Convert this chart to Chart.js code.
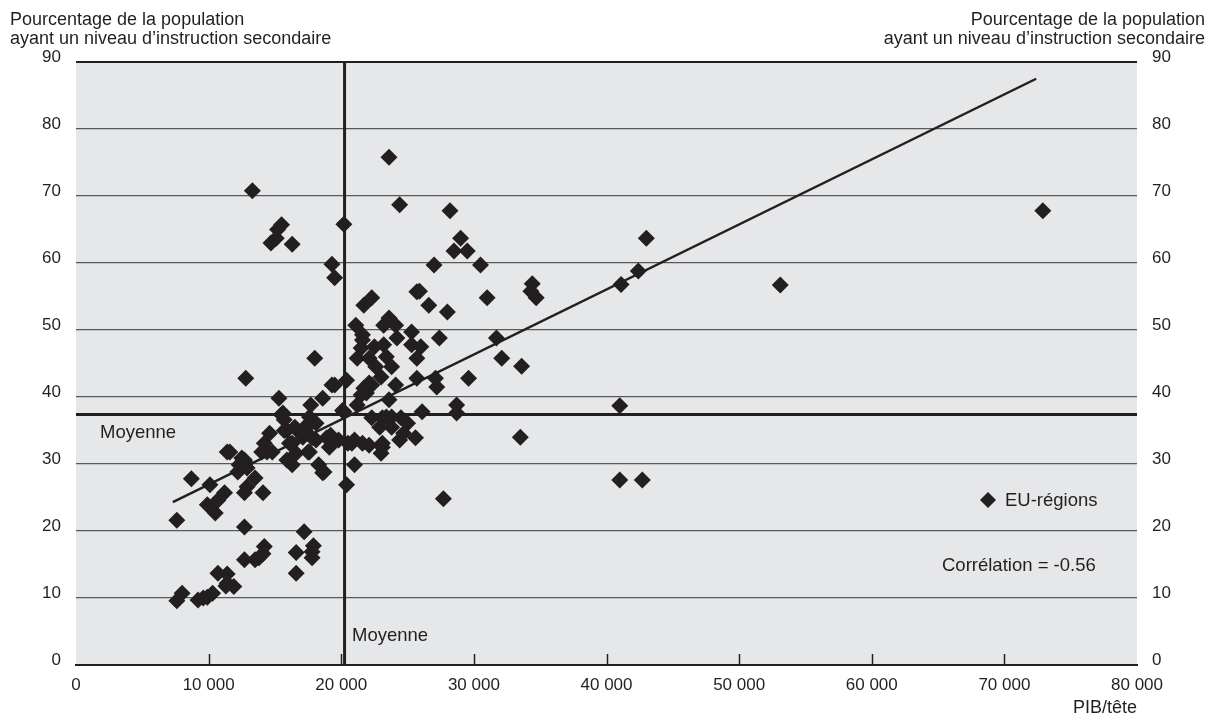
<!DOCTYPE html>
<html>
<head>
<meta charset="utf-8">
<script src="https://cdn.jsdelivr.net/npm/chart.js@4"></script>
<style>
  body { margin: 0; background: #fff; }
  #wrap { width: 1213px; height: 718px; }
</style>
</head>
<body>
<div id="wrap"><canvas id="chart" width="1213" height="718"></canvas></div>
<script>
// PIB/tête (x) et % niveau secondaire (y)
const gdp = [
  7600, 8000, 9200, 9600, 9900, 10300, 10700, 11400, 11300, 11900, 12700, 13500, 13800, 14100, 14200,
  16600, 16600, 17200, 17800, 17800, 17900, 11400,
  7600, 8700, 10100, 9900, 10500, 11200, 10700, 12700, 14100, 13500, 12500, 12200, 12800, 12700, 12800,
  18000, 11400, 14600, 14200, 14400, 15500, 15300, 15700, 15900, 16300, 16300, 16700, 17100, 17500, 17700,
  17600, 17400, 18100, 18300, 18600, 18600, 18900, 19200, 19500, 19800, 20400, 20100, 20500, 21000, 20400,
  21000, 21600, 21900, 22100, 23100, 23000, 23600, 23400, 15600, 18100, 17400, 16500, 15700, 17800, 19100,
  16100, 14000, 14800, 15900, 16600, 17600, 18700, 12700, 12300, 12900, 11600, 12900, 20200, 19300, 20800,
  13300, 15500, 15200, 14700, 15100, 16300, 19300, 19500, 20200,
  23600, 24400, 28200, 29000, 28500, 29500, 30500, 27000, 25700, 25900, 26600, 28000, 31000, 34400, 34700,
  34300, 21700, 22300, 21100, 23600, 23200, 24100, 25300, 27400, 31700, 21600, 24200, 21600, 21500, 22500,
  23200, 25300, 26000, 21200, 22100, 23400, 25700, 22600, 23800, 32100, 33600, 29600, 24100, 25700, 27100,
  27200, 21700, 22300, 21500, 21200, 26100, 28700, 28700, 22300, 23100, 23800, 24500, 25000, 22900, 23800,
  24700, 25600, 24400, 22100, 23100, 23000, 27700, 33500,
  41100, 42400, 43000, 41000, 41000, 42700, 53100, 72900
];
const edu = [
  9.6, 10.7, 9.7, 10.0, 10.1, 10.7, 13.7, 13.6, 11.8, 11.7, 15.7, 15.7, 16.0, 16.6, 17.7,
  13.7, 16.8, 19.9, 16.0, 16.9, 17.8, 12.2,
  21.6, 27.8, 26.9, 23.9, 22.7, 25.7, 24.6, 25.7, 25.7, 27.9, 30.9, 28.8, 30.1, 20.6, 42.8,
  45.8, 31.8, 34.6, 33.1, 31.8, 37.3, 39.8, 36.6, 35.0, 29.9, 33.1, 35.0, 34.0, 31.8, 38.8,
  37.0, 35.5, 33.6, 29.9, 28.7, 39.8, 33.9, 34.3, 41.8, 33.6, 42.5, 38.0, 33.1, 29.9, 26.9,
  33.6, 33.1, 40.6, 42.1, 32.5, 43.0, 39.6, 37.0, 37.6, 36.1, 35.8, 35.5, 35.0, 33.9, 32.5,
  33.1, 31.8, 31.8, 30.6, 31.6, 31.8, 28.8, 30.6, 29.9, 29.4, 31.8, 26.6, 37.8, 41.8, 33.1,
  70.8, 65.7, 65.0, 63.0, 63.7, 62.8, 59.8, 57.8, 65.8,
  75.8, 68.7, 67.8, 63.7, 61.8, 61.8, 59.7, 59.7, 55.7, 55.8, 53.7, 52.7, 54.8, 56.9, 54.8,
  55.8, 53.7, 54.8, 50.7, 51.8, 50.7, 50.7, 49.7, 48.8, 48.8, 49.3, 48.8, 48.5, 47.3, 47.5,
  47.8, 47.8, 47.5, 45.8, 45.8, 46.0, 45.8, 44.5, 44.5, 45.8, 44.6, 42.8, 41.8, 42.8, 42.8,
  41.5, 41.3, 41.8, 40.3, 38.8, 37.8, 38.8, 37.6, 36.9, 36.9, 37.0, 36.9, 36.1, 35.5, 35.5,
  34.6, 33.9, 33.6, 32.8, 33.1, 31.6, 24.8, 34.0,
  56.8, 58.8, 63.7, 38.7, 27.6, 27.6, 56.7, 67.8
];

// droite de tendance et moyennes
const trendX = [7300, 72400];
const trendY = [24.3, 87.5];
const meanGdp = 20250;
const meanEdu = 37.4;

const xTicks = [0, 10000, 20000, 30000, 40000, 50000, 60000, 70000, 80000];
const yTicks = [0, 10, 20, 30, 40, 50, 60, 70, 80, 90];

const INK = "#231f20";
const FONT = "'Liberation Sans', Arial, sans-serif";

function fmtThousands(v) {
    return String(v).replace(/\B(?=(\d{3})+(?!\d))/g, " ");
}

// fond gris, petites graduations, textes
const decor = {
    id: "decor",
    beforeDraw(chart) {
        const { ctx, chartArea: a } = chart;
        ctx.save();
        ctx.fillStyle = "#e6e7e8";
        ctx.fillRect(a.left, a.top, a.right - a.left, a.bottom - a.top);
        ctx.restore();
    },
    afterDraw(chart) {
        const { ctx, scales } = chart;
        const x = scales.x, y = scales.y;
        ctx.save();
        ctx.strokeStyle = INK;
        ctx.lineWidth = 1.5;
        xTicks.slice(1, -1).forEach(v => {
            const px = Math.round(x.getPixelForValue(v)) + 0.5;
            ctx.beginPath();
            ctx.moveTo(px, y.bottom);
            ctx.lineTo(px, y.bottom - 11);
            ctx.stroke();
        });

        ctx.fillStyle = INK;
        ctx.font = "18px " + FONT;
        ctx.textBaseline = "alphabetic";
        ctx.textAlign = "left";
        ctx.fillText("Pourcentage de la population", 10, 25);
        ctx.fillText("ayant un niveau d\u2019instruction secondaire", 10, 44);
        ctx.textAlign = "right";
        ctx.fillText("Pourcentage de la population", 1205, 25);
        ctx.fillText("ayant un niveau d\u2019instruction secondaire", 1205, 44);
        ctx.fillText("PIB/t\u00eate", x.right, 713);

        ctx.font = "18.5px " + FONT;
        ctx.textAlign = "left";
        ctx.fillText("Moyenne", 100, 438);
        ctx.fillText("Moyenne", 352, 641);
        ctx.fillText("Corr\u00e9lation = -0.56", 942, 571);
        ctx.fillText("EU-r\u00e9gions", 1005, 506);

        // repère de légende
        ctx.beginPath();
        ctx.moveTo(988, 492);
        ctx.lineTo(996, 500);
        ctx.lineTo(988, 508);
        ctx.lineTo(980, 500);
        ctx.closePath();
        ctx.fill();
        ctx.restore();
    }
};

const points = gdp.map((g, i) => ({ x: g, y: edu[i] }));

new Chart(document.getElementById("chart"), {
    type: "scatter",
    data: {
        datasets: [
            {
                label: "Tendance",
                type: "line",
                data: trendX.map((v, i) => ({ x: v, y: trendY[i] })),
                borderColor: INK,
                borderWidth: 2.5,
                pointRadius: 0,
                order: 0
            },
            {
                label: "EU-régions",
                data: points,
                pointStyle: "rectRot",
                pointRadius: 8.5,
                backgroundColor: INK,
                borderColor: INK,
                borderWidth: 0,
                order: 1
            },
            {
                label: "Moyenne y",
                type: "line",
                data: [{ x: 0, y: meanEdu }, { x: 80000, y: meanEdu }],
                borderColor: INK,
                borderWidth: 3,
                pointRadius: 0,
                order: 2
            },
            {
                label: "Moyenne x",
                type: "line",
                data: [{ x: meanGdp, y: 0 }, { x: meanGdp, y: 90 }],
                borderColor: INK,
                borderWidth: 3,
                pointRadius: 0,
                order: 2
            }
        ]
    },
    options: {
        responsive: false,
        animation: false,
        layout: { padding: { top: 62, left: 0, right: 0, bottom: 0 } },
        plugins: {
            legend: { display: false },
            tooltip: { enabled: false }
        },
        scales: {
            x: {
                type: "linear",
                min: 0,
                max: 80000,
                afterFit: s => { s.height = 53; },
                afterBuildTicks: s => { s.ticks = xTicks.map(v => ({ value: v })); },
                grid: { display: false, drawTicks: false },
                border: { display: true, color: INK, width: 2 },
                ticks: {
                    padding: 10,
                    color: INK,
                    font: { family: FONT, size: 17 },
                    maxRotation: 0,
                    callback: v => fmtThousands(v)
                }
            },
            y: {
                position: "left",
                min: 0,
                max: 90,
                afterFit: s => { s.width = 76; },
                afterBuildTicks: s => { s.ticks = yTicks.map(v => ({ value: v })); },
                grid: {
                    drawTicks: false,
                    color: c => (c.tick && c.tick.value === 90 ? INK : "#58595b"),
                    lineWidth: c => (c.tick && c.tick.value === 90 ? 2 : (c.tick && c.tick.value === 0 ? 0 : 1.3))
                },
                border: { display: false },
                ticks: {
                    padding: 15,
                    labelOffset: -5,
                    color: INK,
                    font: { family: FONT, size: 17 }
                }
            },
            y2: {
                position: "right",
                min: 0,
                max: 90,
                afterFit: s => { s.width = 76; },
                afterBuildTicks: s => { s.ticks = yTicks.map(v => ({ value: v })); },
                grid: { display: false, drawTicks: false },
                border: { display: false },
                ticks: {
                    padding: 15,
                    labelOffset: -5,
                    color: INK,
                    font: { family: FONT, size: 17 }
                }
            }
        }
    },
    plugins: [decor]
});
</script>
</body>
</html>
